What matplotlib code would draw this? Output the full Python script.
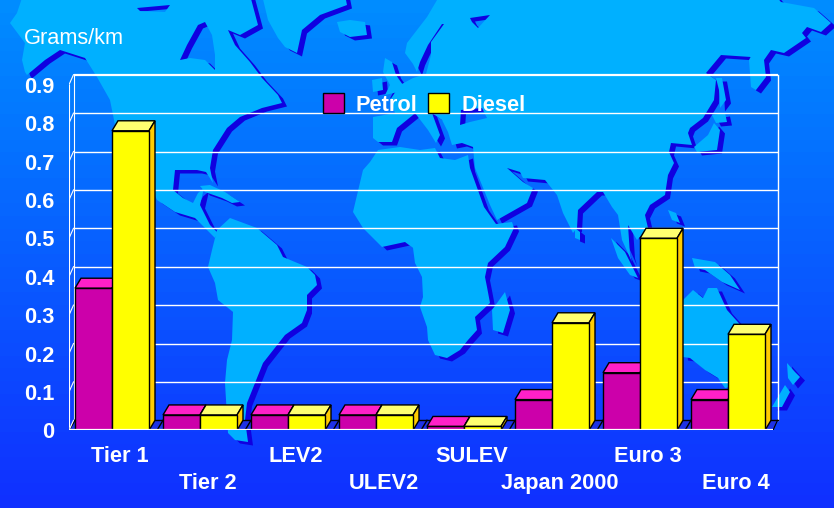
import numpy as np
import matplotlib
matplotlib.use("Agg")
import matplotlib.pyplot as plt
from matplotlib.patches import Polygon, Patch, PathPatch
from matplotlib.path import Path

plt.rcParams['font.family'] = ['Liberation Sans', 'DejaVu Sans']

# ---------- data ----------
categories = ["Tier 1", "Tier 2", "LEV2", "ULEV2", "SULEV", "Japan 2000", "Euro 3", "Euro 4"]
petrol = [0.37, 0.04, 0.04, 0.04, 0.01, 0.08, 0.15, 0.08]
diesel = [0.78, 0.04, 0.04, 0.04, 0.01, 0.28, 0.50, 0.25]
y_ticks = [0, 0.1, 0.2, 0.3, 0.4, 0.5, 0.6, 0.7, 0.8, 0.9]
y_labels = ["0", "0.1", "0.2", "0.3", "0.4", "0.5", "0.6", "0.7", "0.8", "0.9"]
y_title = "Grams/km"
series_names = ["Petrol", "Diesel"]

# ---------- decorative world map, in image pixels ----------
MAP_LAND = {
    "north_america": [(23,-5),(250,-5),(258,25),(240,35),(228,30),(235,45),(250,62),(262,78),(278,95),(282,103),(262,108),(240,117),(227,128),(213,150),(210,168),(213,183),(206,172),(197,170),(175,170),(173,190),(183,198),(193,203),(198,193),(204,188),(200,205),(205,215),(210,225),(218,233),(215,238),(205,228),(195,218),(175,212),(157,200),(150,185),(130,160),(115,125),(110,100),(97,77),(85,58),(60,50),(45,60),(27,75),(25,72),(22,60),(25,43),(10,23),(17,13)],
    "greenland": [(262,-5),(345,-5),(347,5),(320,15),(302,30),(297,53),(285,47),(278,38),(268,20)],
    "cuba": [(200,186),(210,185),(225,192),(240,202),(232,203),(222,198),(205,192)],
    "south_america": [(212,250),(217,230),(230,218),(257,228),(277,245),(283,257),(307,267),(315,275),(317,285),(307,295),(307,310),(302,323),(285,335),(263,363),(247,403),(245,420),(248,442),(235,440),(228,433),(225,383),(227,360),(232,340),(233,312),(218,300),(215,283),(208,267)],
    "iceland": [(337,22),(350,20),(365,22),(367,35),(350,37),(340,32)],
    "britain": [(385,58),(392,62),(396,75),(403,85),(398,92),(385,95),(390,85),(383,72)],
    "ireland": [(372,80),(382,78),(383,90),(373,92)],
    "eurasia": [(440,-5),(775,-5),(781,2),(814,8),(831,23),(821,32),(807,27),(802,33),(806,38),(784,53),(771,50),(764,60),(766,77),(756,90),(751,87),(749,60),(757,45),(751,57),(721,55),(706,73),(716,80),(714,100),(703,118),(690,128),(688,133),(692,145),(671,143),(669,152),(674,163),(668,175),(665,195),(650,205),(645,215),(648,228),(637,240),(628,225),(630,255),(632,262),(622,240),(618,215),(612,207),(603,192),(597,192),(578,210),(577,228),(573,233),(563,213),(557,195),(545,180),(523,178),(520,172),(507,168),(523,182),(533,188),(527,203),(497,220),(490,205),(475,168),(473,147),(462,143),(452,145),(448,132),(442,120),(432,113),(440,135),(436,143),(428,130),(415,113),(413,115),(397,128),(392,142),(378,142),(373,138),(373,117),(395,113),(390,100),(400,85),(413,78),(426,74),(431,55),(431,42),(444,24),(442,24),(428,45),(420,62),(417,72),(413,64),(405,53),(407,43),(427,17)],
    "africa": [(370,162),(378,150),(400,147),(420,150),(435,148),(440,158),(455,160),(468,155),(470,168),(484,207),(496,224),(512,222),(514,228),(505,247),(488,263),(485,277),(487,287),(490,303),(475,317),(477,330),(468,340),(460,350),(447,358),(435,355),(428,340),(427,327),(420,307),(423,297),(422,277),(415,263),(413,248),(405,242),(382,247),(377,242),(363,228),(353,212),(363,170)],
    "madagascar": [(492,310),(505,292),(510,310),(503,333),(493,330)],
    "sri_lanka": [(575,228),(580,232),(580,240),(575,238)],
    "japan": [(714,123),(720,130),(717,150),(697,152),(694,147),(708,135)],
    "hokkaido": [(712,115),(725,113),(727,122),(716,123)],
    "sakhalin": [(716,78),(722,78),(726,100),(720,108),(719,90)],
    "sumatra": [(611,238),(625,252),(638,278),(630,275),(618,258)],
    "indochina_isle": [(668,210),(676,213),(680,223),(672,220)],
    "new_guinea": [(692,258),(715,262),(730,275),(740,290),(722,282),(705,270),(695,268)],
    "australia": [(683,300),(693,290),(703,298),(708,288),(717,288),(727,310),(745,330),(755,360),(745,385),(725,388),(718,378),(705,370),(690,358),(683,357),(680,330)],
    "nz_north": [(787,363),(795,372),(800,377),(793,385),(788,378)],
    "nz_south": [(785,385),(790,392),(782,407),(772,407)],
}
MAP_HOLES = {
    "north_america": [[(180,60),(187,45),(198,25),(205,22),(212,35),(215,55),(215,70),(205,60),(190,58)],
                      [(137,8),(170,5),(165,12),(140,11)]],
    "eurasia": [[(461,110),(482,108),(487,118),(470,122),(460,125)],
                [(470,18),(490,15),(478,28),(472,22)]],
}

BG_TOP = np.array([0, 140, 255]) / 255
BG_BOT = np.array([16, 48, 255]) / 255
LAND = "#00B0FF"
SHADOW = "#1000E0"
FLOOR = "#1E32E6"
PURPLE, PURPLE_TOP = "#CC00AA", "#FF20C8"
YELLOW, YELLOW_TOP, YELLOW_SIDE = "#FFFF00", "#FFFF70", "#FFCC00"
FS = 15.7

W, H = 834, 508
fig = plt.figure(figsize=(W / 100, H / 100), dpi=100)


def signed_area(p):
    a = np.asarray(p, float)
    x, y = a[:, 0], a[:, 1]
    return 0.5 * np.sum(x * np.roll(y, -1) - np.roll(x, -1) * y)


def compound(name, dx=0, dy=0):
    pts, codes = [], []
    outer = MAP_LAND[name]
    rings = [outer if signed_area(outer) > 0 else outer[::-1]]
    for h in MAP_HOLES.get(name, []):
        rings.append(h if signed_area(h) < 0 else h[::-1])
    for r in rings:
        r = [(x + dx, y + dy) for x, y in r]
        pts += r + [r[0]]
        codes += [Path.MOVETO] + [Path.LINETO] * (len(r) - 1) + [Path.CLOSEPOLY]
    return Path(pts, codes)


# ---------- background ----------
bg = fig.add_axes([0, 0, 1, 1], zorder=0)
bg.set_xlim(0, W)
bg.set_ylim(H, 0)
bg.axis("off")
t = np.linspace(0, 1, 40)[:, None, None]
grad = BG_TOP[None, None, :] * (1 - t) + BG_BOT[None, None, :] * t
bg.imshow(grad, extent=(0, W, H, 0), aspect="auto", interpolation="nearest")
for name in MAP_LAND:
    bg.add_patch(PathPatch(compound(name, 5, 3.5), fc=SHADOW, ec="none"))
for name in MAP_LAND:
    bg.add_patch(PathPatch(compound(name), fc=LAND, ec="none"))
bg.set_xlim(0, W)
bg.set_ylim(H, 0)

# ---------- chart axes: front plane of the pseudo-3D plot ----------
PX_X0, PX_Y0, PX_XU, PX_YU = 69.0, 430.3, 88.0, 384.0   # px of origin, px per unit
PX_RIGHT, PX_TOP = 790.0, 60.0
ax = fig.add_axes([PX_X0 / W, 1 - PX_Y0 / H, (PX_RIGHT - PX_X0) / W, (PX_Y0 - PX_TOP) / H], zorder=1)
ax.patch.set_alpha(0)
ax.set_xlim(0, (PX_RIGHT - PX_X0) / PX_XU)
ax.set_ylim(0, (PX_Y0 - PX_TOP) / PX_YU)
for s in ax.spines.values():
    s.set_visible(False)

dx, dy = 6 / PX_XU, 10 / PX_YU          # bar depth
wall_dx = 4.5 / PX_XU                   # wall offset
offset, width = 6 / PX_XU, 37 / PX_XU
n = len(categories)
x = np.arange(n)

# walls and grid
top = y_ticks[-1] + dy
for v in y_ticks[1:]:
    lw = 1.6 if v == y_ticks[-1] else 1.0
    ax.plot([wall_dx, n + wall_dx], [v + dy, v + dy], color="white", lw=lw, zorder=1, solid_capstyle="butt")
    ax.plot([0, wall_dx], [v, v + dy], color="white", lw=0.8, zorder=1)
ax.plot([0, 0], [0, y_ticks[-1]], color="white", lw=0.8, zorder=1)
ax.plot([wall_dx, wall_dx], [dy, top], color="white", lw=0.8, zorder=1)
ax.plot([n + wall_dx] * 2, [dy, top], color="white", lw=1.0, zorder=1)

# floor
ax.add_patch(Polygon([(0, 0), (wall_dx, dy), (n + wall_dx, dy), (n, 0)], fc=FLOOR, ec="none", zorder=1.5))
ax.plot([wall_dx, n + wall_dx], [dy, dy], color="black", lw=1.0, zorder=1.6)
for i in range(n):
    ax.plot([i, i + dx], [0, dy], color="black", lw=1.0, zorder=1.6)
ax.plot([0, wall_dx], [0, dy], color="white", lw=0.8, zorder=1.7)
ax.plot([n, n + wall_dx], [0, dy], color="black", lw=0.8, zorder=1.6)
ax.plot([0, n], [0, 0], color="white", lw=1.6, zorder=6, solid_capstyle="butt")


def bars3d(left, vals, front, top_c, side_c, z):
    ax.bar(left, vals, width=width, align="edge", color=front, edgecolor="black", linewidth=1.0, zorder=z + 0.2)
    for l, v in zip(left, vals):
        ax.add_patch(Polygon([(l, v), (l + dx, v + dy), (l + width + dx, v + dy), (l + width, v)],
                             fc=top_c, ec="black", lw=1.0, zorder=z))
        ax.add_patch(Polygon([(l + width, 0), (l + width + dx, dy), (l + width + dx, v + dy), (l + width, v)],
                             fc=side_c, ec="black", lw=1.0, zorder=z))


bars3d(x + offset, petrol, PURPLE, PURPLE_TOP, PURPLE_TOP, 3)
bars3d(x + offset + width, diesel, YELLOW, YELLOW_TOP, YELLOW_SIDE, 4)

# axis labels
ax.set_yticks(y_ticks)
ax.set_yticklabels(y_labels, fontsize=FS, fontweight="bold", color="white")
ax.tick_params(axis="y", length=0, pad=10.5)
ax.set_xticks(x + 0.5 + 7 / PX_XU)
ax.set_xticklabels(categories, fontsize=FS, fontweight="bold", color="white")
ax.tick_params(axis="x", length=0)
for i, tick in enumerate(ax.xaxis.get_major_ticks()):
    tick.set_pad(11 if i % 2 == 0 else 31)

fig.text(24 / W, 1 - 38.5 / H, y_title, color="white", fontsize=FS, va="center", ha="left")

# legend
handles = [Patch(fc=PURPLE, ec="black", lw=1.0), Patch(fc=YELLOW, ec="black", lw=1.0)]
leg = ax.legend(handles, series_names, ncol=2, frameon=False, loc="upper left",
                bbox_to_anchor=(323 / W, 1 - 93 / H), bbox_transform=fig.transFigure,
                borderaxespad=0, borderpad=0, handlelength=0.95, handleheight=1.05,
                handletextpad=0.55, columnspacing=0.5,
                prop={"size": FS, "weight": "bold"}, labelcolor="white")
leg.set_zorder(2)

fig.savefig("out.png", dpi=100)
